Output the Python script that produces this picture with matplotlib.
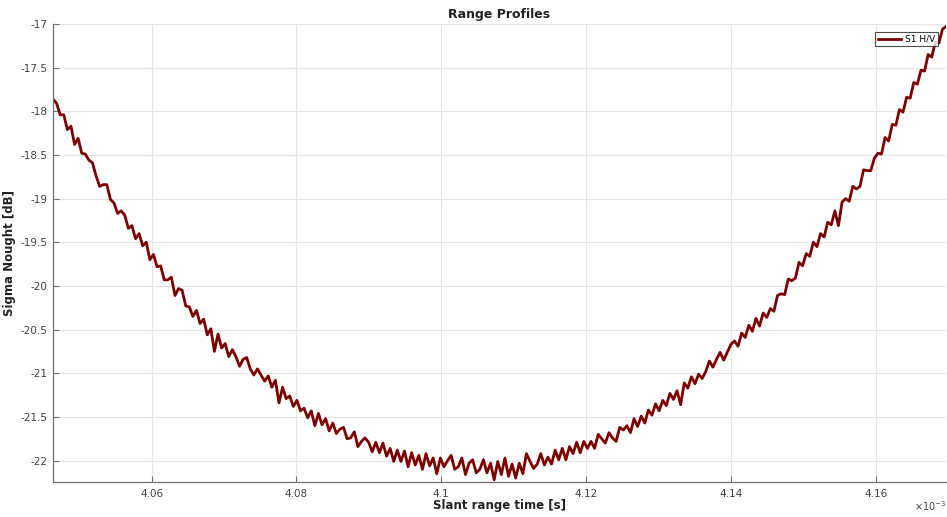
import numpy as np
import matplotlib
matplotlib.use("Agg")
import matplotlib.pyplot as plt
from matplotlib.ticker import FuncFormatter, MultipleLocator

# Slant range time (x 1e-3 s) range of the samples
t_start = 4.0464
t_end = 4.1697

# Sigma nought samples [dB]
sigma0 = [
    -17.86, -17.91, -18.04, -18.04, -18.21, -18.17, -18.38, -18.31, -18.48, -18.49,
    -18.56, -18.59, -18.74, -18.86, -18.84, -18.84, -19.01, -19.05, -19.17, -19.14,
    -19.19, -19.34, -19.31, -19.46, -19.40, -19.54, -19.50, -19.70, -19.64, -19.78,
    -19.77, -19.93, -19.93, -19.90, -20.11, -20.03, -20.05, -20.23, -20.24, -20.35,
    -20.28, -20.43, -20.38, -20.56, -20.49, -20.75, -20.55, -20.71, -20.66, -20.81,
    -20.73, -20.81, -20.92, -20.84, -20.82, -20.95, -21.02, -20.95, -21.02, -21.09,
    -21.03, -21.16, -21.08, -21.34, -21.16, -21.29, -21.26, -21.38, -21.31, -21.43,
    -21.40, -21.51, -21.43, -21.60, -21.46, -21.59, -21.52, -21.66, -21.57, -21.69,
    -21.64, -21.62, -21.75, -21.74, -21.67, -21.84, -21.78, -21.74, -21.79, -21.90,
    -21.79, -21.91, -21.80, -21.95, -21.86, -22.01, -21.88, -22.01, -21.89, -22.07,
    -21.91, -22.05, -21.94, -22.10, -21.92, -22.06, -21.97, -22.15, -21.97, -22.07,
    -22.00, -21.94, -22.10, -22.07, -21.97, -22.16, -22.03, -21.99, -22.14, -22.10,
    -21.99, -22.14, -22.03, -22.22, -22.01, -22.16, -21.97, -22.18, -22.04, -22.20,
    -22.03, -22.15, -21.92, -22.01, -22.09, -22.04, -21.92, -22.05, -21.96, -22.04,
    -21.88, -21.99, -21.86, -21.99, -21.84, -21.92, -21.79, -21.91, -21.78, -21.86,
    -21.78, -21.86, -21.70, -21.75, -21.80, -21.68, -21.74, -21.78, -21.62, -21.65,
    -21.60, -21.68, -21.52, -21.61, -21.49, -21.57, -21.42, -21.48, -21.35, -21.43,
    -21.31, -21.37, -21.23, -21.30, -21.20, -21.36, -21.11, -21.17, -21.04, -21.12,
    -21.01, -21.06, -20.98, -20.86, -20.93, -20.84, -20.76, -20.85, -20.76, -20.67,
    -20.63, -20.69, -20.54, -20.59, -20.45, -20.52, -20.37, -20.46, -20.31, -20.36,
    -20.26, -20.29, -20.11, -20.09, -20.10, -19.92, -19.94, -19.91, -19.73, -19.77,
    -19.63, -19.66, -19.50, -19.55, -19.40, -19.44, -19.27, -19.30, -19.14, -19.31,
    -19.04, -19.00, -19.03, -18.86, -18.89, -18.86, -18.67, -18.68, -18.68, -18.54,
    -18.48, -18.49, -18.30, -18.34, -18.15, -18.16, -17.98, -18.01, -17.84, -17.85,
    -17.67, -17.69, -17.53, -17.54, -17.35, -17.38, -17.21, -17.22, -17.06, -17.03,
]
time_ms = np.linspace(t_start, t_end, len(sigma0))

title = "Range Profiles"
xlabel = "Slant range time [s]"
ylabel = "Sigma Nought [dB]"
series_label = "S1 H/V"
x_ticks = [4.06, 4.08, 4.10, 4.12, 4.14, 4.16]

fig = plt.figure(figsize=(9.47, 5.17), dpi=100)
ax = fig.add_axes([0.056, 0.0677, 0.943, 0.886])

ax.plot(time_ms, sigma0, color="#7d0000", lw=2.0, label=series_label)

ax.set_xlim(t_start, t_end)
ax.set_ylim(-22.245, -17.0)
ax.set_xticks(x_ticks)
ax.yaxis.set_major_locator(MultipleLocator(0.5))
fmt = FuncFormatter(lambda v, p: f"{v:g}")
ax.xaxis.set_major_formatter(fmt)
ax.yaxis.set_major_formatter(fmt)

ax.grid(True, color="#e3e3e3", lw=0.8)
ax.set_axisbelow(True)
for s in ("top", "right"):
    ax.spines[s].set_visible(False)
for s in ("left", "bottom"):
    ax.spines[s].set_color("#707070")
    ax.spines[s].set_linewidth(0.9)
ax.tick_params(direction="in", length=4, width=0.8, colors="#707070",
               labelcolor="#404040", labelsize=7.5, pad=4)
ax.tick_params(axis="x", pad=5)

ax.set_title(title, fontsize=9, fontweight="bold", color="#222222", pad=4)
ax.set_xlabel(xlabel, fontsize=8.5, fontweight="bold", color="#222222", labelpad=0)
ax.set_ylabel(ylabel, fontsize=8.5, fontweight="bold", color="#222222", labelpad=3)

fig.text(0.999, 0.008, r"$\times10^{-3}$", fontsize=7, color="#404040",
         ha="right", va="bottom")

leg = ax.legend(loc="upper right", fontsize=6.5, frameon=True, fancybox=False,
                borderaxespad=0.9, handlelength=2.6, borderpad=0.3,
                handletextpad=0.4)
leg.get_frame().set_edgecolor("#222222")
leg.get_frame().set_linewidth(0.8)

fig.savefig("out.png", dpi=100)
